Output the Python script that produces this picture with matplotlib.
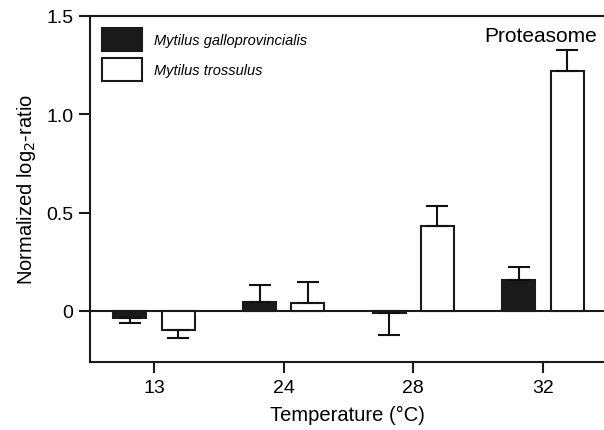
import matplotlib.pyplot as plt
import numpy as np

plt.rcParams['font.family'] = ['Liberation Sans', 'DejaVu Sans']

# ===== DATA =====
temps = ["13", "24", "28", "32"]
gallo = [-0.035, 0.045, -0.01, 0.155]
gallo_err = [0.025, 0.088, 0.115, 0.067]
tross = [-0.10, 0.042, 0.43, 1.218]
tross_err = [0.04, 0.105, 0.105, 0.11]

x = np.arange(len(temps))
w = 0.255
off = 0.186

fig = plt.figure(figsize=(6.04, 4.31), dpi=100)
ax = fig.add_axes([0.149, 0.158, 0.851, 0.8026])

def one_sided(vals, errs):
    # error bar points away from zero
    lo = [e if v < 0 else 0 for v, e in zip(vals, errs)]
    hi = [e if v >= 0 else 0 for v, e in zip(vals, errs)]
    return [lo, hi]

ek = dict(ecolor="#111111", elinewidth=1.5, capsize=8, capthick=1.5)
ax.bar(x - off, gallo, w, color="#1a1a1a", edgecolor="#1a1a1a", linewidth=1.5,
       yerr=one_sided(gallo, gallo_err), error_kw=ek,
       label="Mytilus galloprovincialis", zorder=3)
ax.bar(x + off, tross, w, color="white", edgecolor="#1a1a1a", linewidth=1.5,
       yerr=one_sided(tross, tross_err), error_kw=ek,
       label="Mytilus trossulus", zorder=3)

ax.axhline(0, color="#1a1a1a", lw=1.5, zorder=2)

ax.set_xlim(-0.494, 3.471)
ax.set_ylim(-0.26, 1.5)
ax.set_xticks(x)
ax.set_xticklabels(temps)
ax.set_yticks([0, 0.5, 1.0, 1.5])
ax.set_yticklabels(["0", "0.5", "1.0", "1.5"])
ax.tick_params(direction="out", length=8, width=1.5, labelsize=14, pad=4, color="#1a1a1a")

for s in ["left", "bottom", "top"]:
    ax.spines[s].set_linewidth(1.5)
    ax.spines[s].set_color("#1a1a1a")
ax.spines["right"].set_visible(False)

ax.set_xlabel("Temperature (\u00b0C)", fontsize=14.5, labelpad=7)
ax.set_ylabel("Normalized log$_2$-ratio", fontsize=14.5, labelpad=6)

leg = ax.legend(loc="upper left", bbox_to_anchor=(0.0, 1.0), frameon=False,
                prop={"style": "italic", "size": 10.5}, handlelength=2.8,
                handleheight=2.1, handletextpad=0.8, labelspacing=0.45,
                borderaxespad=0.4)

ax.text(0.877, 0.945, "Proteasome", transform=ax.transAxes, ha="center",
        va="center", fontsize=15)

fig.savefig("out.png", dpi=100)
